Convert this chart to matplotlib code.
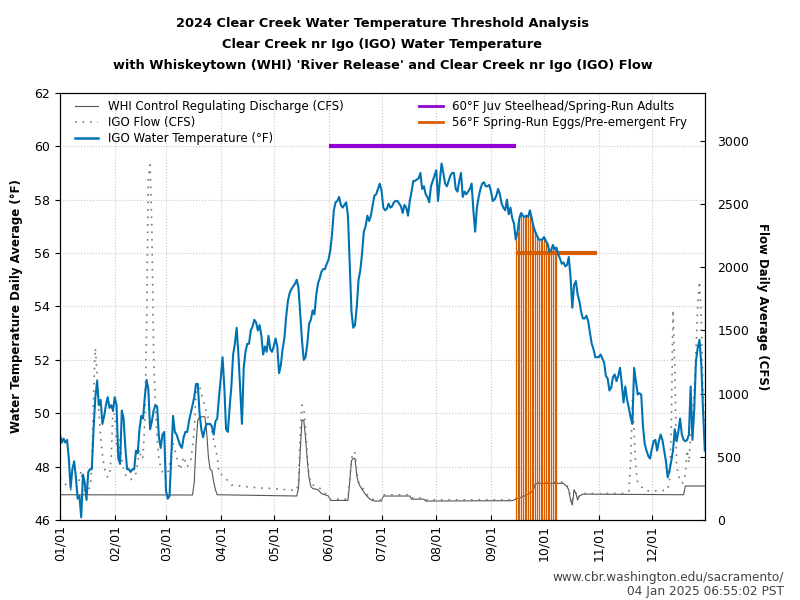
import numpy as np
import pandas as pd
import matplotlib
matplotlib.use("Agg")
import matplotlib.pyplot as plt
import matplotlib.dates as mdates
from matplotlib.lines import Line2D

# IGO water temperature, daily average (F), 2024-01-01 .. 2024-12-31
temp_jan = [49.2, 48.9, 49.05, 48.9, 49.0, 48.3, 47.2, 47.9, 48.2, 47.6, 46.8, 46.9, 46.1, 47.7, 47.4, 46.75,
            47.8, 47.9, 47.9, 49.4, 50.6, 51.2, 50.3, 50.5, 49.6, 49.9, 50.3, 50.6, 50.2, 50.3, 50.1]
temp_feb = [50.6, 50.3, 48.3, 48.1, 50.1, 49.8, 48.7, 47.9, 47.9, 47.8, 47.9, 47.9, 48.6, 48.5, 49.4, 49.9,
            49.8, 50.6, 51.25, 50.9, 49.4, 49.7, 50.1, 50.3, 50.25, 49.1, 48.7, 49.2, 49.3]
temp_mar = [47.1, 46.8, 46.9, 48.4, 49.9, 49.3, 49.2, 49.0, 48.8, 48.7, 49.1, 49.3, 49.3, 49.7, 50.0, 50.3,
            50.6, 51.1, 51.1, 50.0, 49.4, 49.1, 49.4, 49.6, 49.6, 49.6, 49.5, 49.2, 49.7, 49.8, 50.6]
temp_apr = [51.3, 52.1, 51.0, 49.4, 49.3, 50.2, 51.0, 52.2, 52.6, 53.2, 52.2, 50.9, 49.6, 51.7, 52.3, 52.6,
            52.6, 53.1, 53.25, 53.5, 53.4, 53.1, 53.3, 52.9, 52.2, 52.5, 52.3, 52.9, 52.4, 52.3]
temp_may = [52.5, 52.8, 52.5, 51.5, 51.8, 52.4, 52.8, 53.6, 54.2, 54.5, 54.65, 54.75, 54.85, 55.0, 54.7, 53.7,
            52.7, 52.0, 52.1, 52.6, 53.35, 53.5, 53.85, 53.7, 54.4, 54.85, 55.05, 55.3, 55.4, 55.4, 55.6]
temp_jun = [55.75, 56.1, 56.7, 57.6, 57.9, 57.95, 58.1, 57.8, 57.7, 57.8, 57.9, 57.4, 55.6, 53.8, 53.2, 53.3,
            54.0, 55.0, 55.35, 56.0, 56.8, 57.0, 57.4, 57.2, 57.4, 57.8, 58.15, 58.2, 58.4, 58.6]
temp_jul = [58.35, 57.7, 57.6, 57.65, 57.85, 57.7, 57.75, 57.9, 57.95, 57.95, 57.85, 57.75, 57.5, 57.8, 57.7,
            57.4, 57.95, 58.3, 58.7, 58.7, 58.75, 58.8, 59.0, 58.4, 58.5, 58.2, 58.1, 57.9, 58.5, 58.7, 58.9]
temp_aug = [59.1, 57.95, 58.7, 59.35, 59.0, 58.6, 58.5, 58.7, 58.9, 59.0, 59.0, 58.4, 58.3, 58.7, 59.0, 58.1,
            58.3, 58.2, 58.3, 58.4, 58.6, 57.6, 56.8, 57.7, 58.1, 58.4, 58.6, 58.65, 58.5, 58.5, 58.55]
temp_sep = [58.3, 57.95, 58.0, 58.15, 58.4, 58.2, 57.85, 57.7, 57.6, 58.0, 57.45, 57.7, 57.3, 57.1, 56.5, 56.8,
            57.3, 57.5, 57.4, 57.35, 57.4, 57.35, 57.6, 57.3, 57.0, 56.8, 56.65, 56.5, 56.5, 56.5]
temp_oct = [56.6, 56.45, 56.35, 56.05, 56.1, 56.3, 56.15, 56.2, 55.95, 55.8, 55.6, 55.65, 55.5, 55.55, 55.85,
            55.1, 53.95, 54.8, 54.95, 54.45, 54.2, 53.8, 53.55, 53.55, 53.65, 53.45, 53.0, 52.6, 52.4, 52.1, 52.1]
temp_nov = [52.1, 52.2, 52.05, 51.9, 51.4, 51.3, 50.85, 50.95, 51.35, 51.45, 51.2, 51.4, 51.7, 51.1, 50.4, 51.0,
            50.5, 50.2, 49.85, 49.6, 51.7, 51.2, 50.7, 50.75, 50.7, 49.5, 48.85, 48.6, 48.4, 48.3]
temp_dec = [48.65, 48.95, 49.0, 48.6, 48.95, 49.2, 49.0, 48.6, 48.2, 47.6, 47.85, 48.2, 48.6, 49.4, 48.95, 49.3,
            49.8, 49.2, 49.0, 48.95, 49.0, 49.2, 51.0, 49.0, 50.1, 51.95, 52.45, 52.75, 51.85, 50.1, 48.6]

# WHI control regulating discharge (cfs): day of year (0 = Jan 1) and value
whi_day = [0, 75, 76, 77, 78, 79, 82, 83, 84, 85, 86, 87, 88, 89, 134, 135, 136, 137, 138, 139, 140, 141, 142,
           143, 146, 148, 151, 152, 153, 163, 164, 165, 166, 167, 168, 169, 170, 172, 174, 176, 178, 182, 183,
           198, 199, 206, 207, 256, 258, 262, 266, 268, 269, 270, 285, 287, 288, 289, 290, 291, 292, 293, 294,
           296, 353, 354, 365]
whi_cfs = [200, 198, 300, 600, 790, 815, 818, 700, 500, 400, 390, 300, 240, 200, 190, 250, 550, 790, 790, 650,
           470, 330, 265, 250, 240, 210, 195, 190, 155, 155, 300, 470, 488, 485, 350, 290, 265, 220, 185, 160,
           150, 150, 190, 190, 165, 165, 150, 153, 165, 185, 211, 240, 285, 290, 290, 264, 238, 158, 119, 240,
           211, 158, 190, 205, 200, 269, 269]

# IGO flow (cfs)
igo_day = [0, 2, 4, 7, 10, 12, 13, 15, 17, 18, 19, 20, 21, 22, 23, 24, 25, 26, 27, 28, 29, 30, 31, 32, 33, 34,
           35, 36, 37, 38, 40, 42, 43, 44, 45, 46, 47, 48, 49, 50, 51, 52, 53, 54, 55, 56, 57, 58, 59, 60, 61,
           63, 64, 65, 66, 68, 70, 72, 74, 76, 77, 78, 79, 81, 83, 85, 86, 87, 89, 90, 93, 97, 105, 113, 121,
           130, 134, 135, 136, 137, 138, 139, 140, 141, 142, 144, 146, 148, 151, 153, 163, 164, 165, 166, 167,
           168, 169, 170, 172, 174, 176, 178, 182, 183, 198, 199, 206, 207, 256, 258, 262, 266, 268, 269, 270,
           285, 287, 288, 289, 290, 291, 292, 293, 294, 296, 320, 322, 323, 324, 325, 326, 327, 329, 332, 340,
           344, 345, 346, 347, 348, 349, 350, 352, 353, 354, 355, 356, 357, 358, 359, 360, 361, 362, 363, 364,
           365]
igo_cfs = [330, 300, 270, 230, 270, 390, 250, 220, 260, 420, 1000, 1360, 1150, 850, 650, 520, 420, 370, 340,
           350, 500, 880, 820, 600, 500, 640, 480, 400, 360, 340, 320, 340, 370, 450, 560, 480, 500, 780, 1500,
           2700, 2810, 2300, 1300, 900, 650, 480, 420, 380, 350, 330, 372, 500, 610, 550, 500, 396, 501, 420,
           470, 700, 1000, 1084, 1060, 950, 850, 750, 700, 633, 500, 372, 343, 277, 264, 253, 249, 237, 237,
           300, 700, 910, 880, 720, 500, 350, 290, 270, 264, 240, 200, 165, 165, 320, 480, 541, 530, 380, 300,
           280, 240, 200, 170, 160, 160, 200, 200, 175, 175, 160, 160, 170, 190, 215, 245, 290, 300, 300, 270,
           245, 170, 130, 245, 215, 170, 195, 210, 210, 230, 450, 950, 700, 400, 300, 264, 230, 230, 240, 320,
           700, 1663, 1200, 450, 350, 290, 300, 370, 554, 450, 660, 818, 1000, 1346, 1700, 1887, 1600, 1000,
           700]

temp = np.array(temp_jan + temp_feb + temp_mar + temp_apr + temp_may + temp_jun +
                temp_jul + temp_aug + temp_sep + temp_oct + temp_nov + temp_dec)
days = pd.date_range("2024-01-01", "2024-12-31", freq="D")
start = pd.Timestamp("2024-01-01")
whi_dates = start + pd.to_timedelta(whi_day, unit="D")
igo_dates = start + pd.to_timedelta(igo_day, unit="D")

# thresholds
steel_start, steel_end = pd.Timestamp("2024-06-01"), pd.Timestamp("2024-09-15")
egg_start, egg_end = pd.Timestamp("2024-09-15"), pd.Timestamp("2024-10-31")

blue = "#0072B2"
purple = "#9400D3"
orange = "#D55E00"

fig = plt.figure(figsize=(8, 6), dpi=100)
ax = fig.add_axes([0.075, 0.1333, 0.806, 0.712])
ax2 = ax.twinx()
ax.set_zorder(ax2.get_zorder() + 1)
ax.patch.set_visible(False)

# flows on the right axis
ax2.plot(whi_dates, whi_cfs, color="#555555", lw=0.8)
ax2.plot(igo_dates, igo_cfs, color="#777777", lw=1.2, linestyle=(0, (1, 3.5)))
ax2.set_ylim(0, 3380)
ax2.set_yticks(np.arange(0, 3001, 500))
ax2.set_ylabel("Flow Daily Average (CFS)", rotation=270, labelpad=14, fontweight="bold", fontsize=8.5)
ax2.tick_params(axis="y", direction="in", labelsize=9, pad=9)

# temperature on the left axis
mask = (days >= egg_start) & (days <= egg_end) & (temp > 56)
ax.vlines(days[mask], 46, temp[mask], color=orange, lw=0.9)
ax.hlines(60, steel_start, steel_end, color=purple, lw=3)
ax.hlines(56, egg_start, egg_end, color=orange, lw=3)
ax.plot(days, temp, color=blue, lw=1.5)

ax.set_ylim(46, 62)
ax.set_yticks(np.arange(46, 63, 2))
ax.set_xlim(pd.Timestamp("2024-01-01"), pd.Timestamp("2024-12-31"))
ax.xaxis.set_major_locator(mdates.MonthLocator())
ax.xaxis.set_major_formatter(mdates.DateFormatter("%m/%d"))
ax.tick_params(axis="x", rotation=90, labelsize=9, direction="in")
ax.tick_params(axis="y", labelsize=9)
ax.set_ylabel("Water Temperature Daily Average (°F)", fontweight="bold", fontsize=8.5, labelpad=8)
ax.grid(True, color="#c8c8c8", linestyle=":", lw=0.8)

ax.set_title("2024 Clear Creek Water Temperature Threshold Analysis\n"
             "Clear Creek nr Igo (IGO) Water Temperature\n"
             "with Whiskeytown (WHI) 'River Release' and Clear Creek nr Igo (IGO) Flow",
             fontweight="bold", fontsize=9.3, linespacing=1.8, pad=17.5)

handles = [
    Line2D([], [], color="#555555", lw=0.8),
    Line2D([], [], color="#777777", lw=1.2, linestyle=(0, (1, 3.5))),
    Line2D([], [], color=blue, lw=1.8),
    Line2D([], [], color=purple, lw=2),
    Line2D([], [], color=orange, lw=2),
]
labels = [
    "WHI Control Regulating Discharge (CFS)",
    "IGO Flow (CFS)",
    "IGO Water Temperature (°F)",
    "60°F Juv Steelhead/Spring-Run Adults",
    "56°F Spring-Run Eggs/Pre-emergent Fry",
]
ax.legend(handles, labels, loc="upper left", ncol=2, frameon=False, fontsize=8.5,
          columnspacing=6.4, handlelength=2.0, borderaxespad=0.2, labelspacing=0.25,
          bbox_to_anchor=(0.012, 1.0))

fig.text(0.98, 0.031, "www.cbr.washington.edu/sacramento/", ha="right", fontsize=8.7, color="#444444")
fig.text(0.98, 0.008, "04 Jan 2025 06:55:02 PST", ha="right", fontsize=8.7, color="#444444")

fig.savefig("out.png", dpi=100)
